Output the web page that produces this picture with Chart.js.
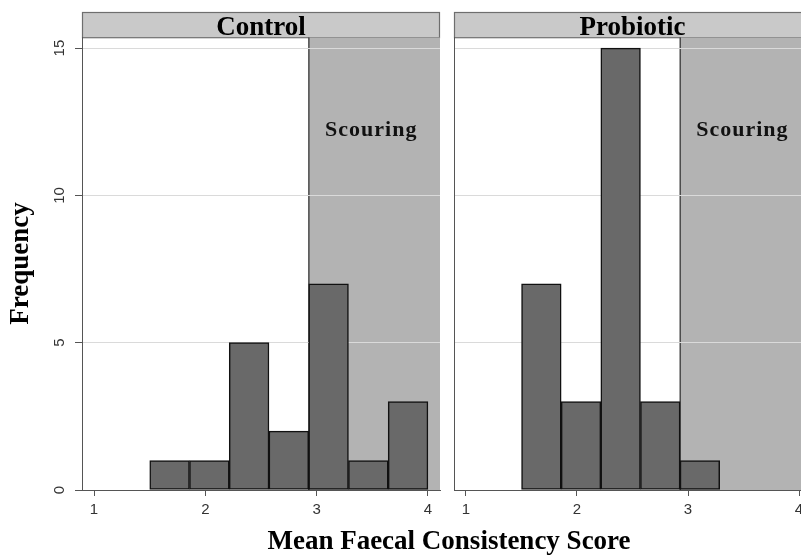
<!DOCTYPE html>
<html>
<head>
<meta charset="utf-8">
<title>Mean Faecal Consistency Score</title>
<script src="https://cdn.jsdelivr.net/npm/chart.js@4"></script>
<style>
    body { margin: 0; background: #fff; }
    #wrap { position: relative; width: 801px; height: 556px; overflow: hidden; background: #fff; }
    #wrap canvas { position: absolute; top: 0; }
    #control-chart { left: 0; }
    #probiotic-chart { left: 87px; }
</style>
</head>
<body>
<div id="wrap">
    <canvas id="control-chart" width="447" height="556"></canvas>
    <canvas id="probiotic-chart" width="724" height="556"></canvas>
</div>
<script>
// histogram bins (centres of the 7 bins between 1.5 and 4)
const binCentres = [1.679, 2.036, 2.393, 2.750, 3.107, 3.464, 3.821];
const controlCounts = [1, 1, 5, 2, 7, 1, 3];
const probioticCounts = [7, 3, 15, 3, 1];

const xRange = [0.892, 4.108];
const yMax = 15.37;
const scouringStart = 2.93;
const scouringLabel = { text: 'Scouring', x: 3.49, y: 12.2 };

const SERIF = '"Liberation Serif", "Times New Roman", serif';
const SANS = '"Liberation Sans", Arial, sans-serif';
Chart.defaults.font.family = SANS;

const barFill = '#696969';
const shadeFill = '#b3b3b3';
const gridColor = '#dadada';
const axisColor = '#555';

// grey strip above the panel, grid redrawn over the shading, "Scouring" label
const panelDecor = {
    id: 'panelDecor',
    beforeDraw(chart, args, opts) {
        const { ctx, chartArea } = chart;
        const h = chartArea.top - opts.top;
        ctx.save();
        ctx.fillStyle = '#c9c9c9';
        ctx.fillRect(chartArea.left, opts.top, chartArea.width, h);
        ctx.strokeStyle = '#6e6e6e';
        ctx.lineWidth = 1.2;
        ctx.strokeRect(chartArea.left + 0.5, opts.top + 0.5, chartArea.width - 1, h);
        ctx.restore();
    },
    afterDatasetDraw(chart, args) {
        if (args.meta.type === 'line') {
            chart.scales.y.drawGrid(chart.chartArea);
        }
    },
    afterDatasetsDraw(chart) {
        const { ctx, scales } = chart;
        ctx.save();
        ctx.font = 'bold 22px ' + SERIF;
        ctx.letterSpacing = '1px';
        ctx.fillStyle = '#111';
        ctx.textAlign = 'center';
        ctx.textBaseline = 'middle';
        ctx.fillText(scouringLabel.text, scales.x.getPixelForValue(scouringLabel.x), scales.y.getPixelForValue(scouringLabel.y));
        ctx.restore();
    }
};

function histData(counts) {
    return counts.map((c, i) => ({ x: binCentres[i], y: c }));
}

function shadeData() {
    return [
        { x: scouringStart, y: 0 },
        { x: scouringStart, y: yMax },
        { x: xRange[1], y: yMax },
        { x: xRange[1], y: 0 }
    ];
}

function makeDatasets(counts) {
    return [{
        type: 'bar',
        data: histData(counts),
        backgroundColor: barFill,
        borderColor: '#111',
        borderWidth: 1.5,
        borderSkipped: false,
        barPercentage: 1,
        categoryPercentage: 1,
        order: 0
    }, {
        type: 'line',
        data: shadeData(),
        fill: 'origin',
        backgroundColor: shadeFill,
        borderWidth: 1.5,
        pointRadius: 0,
        tension: 0,
        segment: {
            borderColor: ctx => ctx.p0DataIndex === 0 ? '#4a4a4a' : 'rgba(0,0,0,0)'
        },
        order: 1
    }];
}

function xScale() {
    return {
        type: 'linear',
        min: xRange[0],
        max: xRange[1],
        offset: false,
        grid: { offset: false, drawOnChartArea: false, tickLength: 6, tickColor: axisColor },
        border: { color: axisColor },
        ticks: {
            stepSize: 1, includeBounds: false, padding: 5, maxRotation: 0,
            font: { size: 15 }, color: '#333'
        }
    };
}

const headerFont = { family: SERIF, size: 27, weight: 'bold', lineHeight: 0.7 };

Cgraph = new Chart(document.getElementById('control-chart'), {
    data: { datasets: makeDatasets(controlCounts) },
    plugins: [panelDecor],
    options: {
        responsive: false,
        animation: false,
        layout: { padding: { right: 7, bottom: 32 } },
        plugins: {
            legend: { display: false },
            tooltip: { enabled: false },
            title: {
                display: true, text: 'Control', position: 'top', fullSize: false,
                font: headerFont, color: '#000', padding: { top: 18.3, bottom: 0 }
            },
            panelDecor: { top: 12 }
        },
        scales: {
            x: xScale(),
            y: {
                type: 'linear',
                min: 0,
                max: yMax,
                afterFit: s => { s.width = 82; },
                title: {
                    display: true, text: 'Frequency', color: '#000',
                    font: { family: SERIF, size: 27, weight: 'bold' },
                    padding: { top: 5, bottom: 0 }
                },
                grid: {
                    color: c => c.tick && c.tick.value === 0 ? 'rgba(0,0,0,0)' : gridColor,
                    tickLength: 7, tickColor: axisColor
                },
                border: { color: axisColor },
                ticks: {
                    stepSize: 5, includeBounds: false, minRotation: 90, maxRotation: 90,
                    crossAlign: 'center', padding: 7, font: { size: 15 }, color: '#333'
                }
            }
        }
    }
});

Pgraph = new Chart(document.getElementById('probiotic-chart'), {
    data: { datasets: makeDatasets(probioticCounts) },
    plugins: [panelDecor],
    options: {
        responsive: false,
        animation: false,
        plugins: {
            legend: { display: false },
            tooltip: { enabled: false },
            title: {
                display: true, text: 'Mean Faecal Consistency Score', position: 'bottom', fullSize: true,
                font: { family: SERIF, size: 27, weight: 'bold', lineHeight: 1 }, color: '#000',
                padding: { top: 4.5, bottom: 0.5 }
            },
            subtitle: {
                display: true, text: 'Probiotic', position: 'top', fullSize: false,
                font: headerFont, color: '#000', padding: { top: 18.3, bottom: 0 }
            },
            panelDecor: { top: 12 }
        },
        scales: {
            x: xScale(),
            y: {
                type: 'linear',
                min: 0,
                max: yMax,
                afterFit: s => { s.width = 367; },
                grid: {
                    color: c => c.tick && c.tick.value === 0 ? 'rgba(0,0,0,0)' : gridColor,
                    drawTicks: false
                },
                border: { color: axisColor },
                ticks: { display: false, stepSize: 5, includeBounds: false }
            }
        }
    }
});
</script>
</body>
</html>
